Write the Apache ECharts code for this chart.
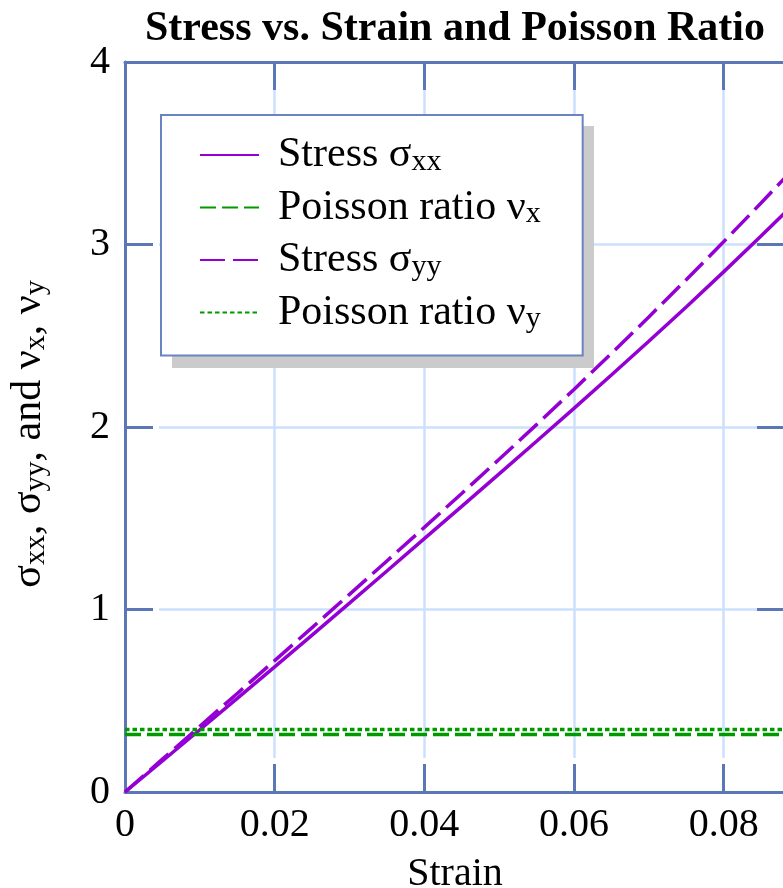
<!DOCTYPE html>
<html>
<head>
<meta charset="utf-8">
<script src="https://cdn.jsdelivr.net/npm/echarts@6/dist/echarts.min.js"></script>
<style>
  html, body { margin: 0; padding: 0; overflow: hidden; background: #ffffff; }
  #chart { width: 910px; height: 888px; }
</style>
</head>
<body>
<div id="chart"></div>
<script>
// Strain samples and the measured responses
const strain   = [0, 0.005, 0.010, 0.015, 0.020, 0.025, 0.030, 0.035, 0.040, 0.045,
                  0.050, 0.055, 0.060, 0.065, 0.070, 0.075, 0.080, 0.085, 0.090];
const stressXX = [0, 0.170, 0.341, 0.513, 0.686, 0.860, 1.035, 1.211, 1.388, 1.565,
                  1.743, 1.922, 2.102, 2.285, 2.470, 2.658, 2.850, 3.046, 3.247];
const stressYY = [0, 0.180, 0.360, 0.540, 0.720, 0.901, 1.083, 1.266, 1.450, 1.636,
                  1.823, 2.013, 2.206, 2.403, 2.603, 2.807, 3.015, 3.227, 3.444];
const poissonX = [0.315, 0.315, 0.315, 0.315, 0.315, 0.315, 0.315, 0.315, 0.315, 0.315,
                  0.315, 0.315, 0.315, 0.315, 0.315, 0.315, 0.315, 0.315, 0.315];
const poissonY = [0.343, 0.343, 0.343, 0.343, 0.343, 0.343, 0.343, 0.343, 0.343, 0.343,
                  0.343, 0.343, 0.343, 0.343, 0.343, 0.343, 0.343, 0.343, 0.343];

const seriesNames = ['Stress σxx', 'Poisson ratio νx', 'Stress σyy', 'Poisson ratio νy'];
const legendLabels = {
  'Stress σxx': '{m|Stress σ}{s|xx}',
  'Poisson ratio νx': '{m|Poisson ratio ν}{s|x}',
  'Stress σyy': '{m|Stress σ}{s|yy}',
  'Poisson ratio νy': '{m|Poisson ratio ν}{s|y}'
};
const yAxisTitle = '{m|σ}{s|xx}{m|, σ}{s|yy}{m|, and ν}{s|x}{m|, ν}{s|y}';

const xRange = [0, 0.0882];
const yRange = [0, 4];
const xStep = 0.02;
const yStep = 1;

const FONT = 'Liberation Serif';
const frameColor = '#5b77b6';
const gridColor = '#cde0fb';
const purple = '#9400d3';
const green = '#009a00';

const subRich = {
  m: { fontFamily: FONT, fontSize: 42, color: '#000', lineHeight: 44 },
  s: { fontFamily: FONT, fontSize: 30, color: '#000', lineHeight: 19, verticalAlign: 'bottom' }
};

function pairs(ys) { return strain.map((s, i) => [s, ys[i]]); }

// one axis that only carries the grid lines, one that blanks a small halo
// around each tick, and one that draws the frame, ticks and labels
function gridAxis(range, step, pos) {
  return {
    type: 'value', min: range[0], max: range[1], interval: step, position: pos, z: 0,
    axisLine: { show: false }, axisTick: { show: false }, axisLabel: { show: false },
    splitLine: { show: true, lineStyle: { color: gridColor, width: 2.5 } }
  };
}
function haloAxis(range, step, pos) {
  return {
    type: 'value', min: range[0], max: range[1], interval: step, position: pos, z: 1,
    axisLine: { show: false }, axisLabel: { show: false }, splitLine: { show: false },
    axisTick: { show: true, inside: true, length: 34, lineStyle: { color: '#ffffff', width: 7 } }
  };
}
function frameAxis(range, step, pos, extra) {
  return Object.assign({
    type: 'value', min: range[0], max: range[1], interval: step, position: pos, z: 1.5,
    axisLine: { show: true, onZero: false, lineStyle: { color: frameColor, width: 3 } },
    axisTick: { show: true, inside: true, length: 28, lineStyle: { color: frameColor, width: 3 } },
    axisLabel: { show: false },
    splitLine: { show: false }
  }, extra || {});
}

const option = {
  backgroundColor: '#ffffff',
  animation: false,
  title: {
    text: 'Stress vs. Strain and Poisson Ratio',
    left: 'center', top: 8, padding: 0,
    textStyle: { fontFamily: FONT, fontWeight: 'bold', fontSize: 42, color: '#000' }
  },
  grid: { left: 125, right: 125, top: 62, bottom: 96, containLabel: false, outerBoundsMode: 'none' },
  // flat drop shadow behind the legend box
  graphic: [{
    type: 'rect', left: 172, top: 126, z: 3,
    shape: { width: 422, height: 242 },
    style: { fill: '#cbcbcb' }
  }],
  legend: {
    data: seriesNames,
    orient: 'vertical',
    left: 161, top: 115,
    padding: [19, 42, 21, 38],
    itemGap: 9.5,
    itemWidth: 59, itemHeight: 14,
    backgroundColor: '#ffffff',
    borderColor: '#6a83c1', borderWidth: 2,
    itemStyle: { color: 'rgba(0,0,0,0)', borderWidth: 0, opacity: 0 },
    formatter: name => legendLabels[name],
    textStyle: {
      fontFamily: FONT, fontSize: 42, color: '#000',
      rich: {
        m: Object.assign({}, subRich.m, { padding: [0, 0, 0, 14] }),
        s: subRich.s
      }
    }
  },
  xAxis: [
    gridAxis(xRange, xStep, 'bottom'),
    haloAxis(xRange, xStep, 'bottom'),
    haloAxis(xRange, xStep, 'top'),
    frameAxis(xRange, xStep, 'bottom', {
      name: 'Strain', nameLocation: 'middle', nameGap: 62,
      nameTextStyle: { fontFamily: FONT, fontSize: 40, color: '#000' },
      axisLabel: {
        show: true, margin: 13, showMaxLabel: false,
        fontFamily: FONT, fontSize: 40, color: '#000',
        formatter: v => (v === 0 ? '0' : v.toFixed(2))
      }
    }),
    frameAxis(xRange, xStep, 'top')
  ],
  yAxis: [
    gridAxis(yRange, yStep, 'left'),
    haloAxis(yRange, yStep, 'left'),
    haloAxis(yRange, yStep, 'right'),
    frameAxis(yRange, yStep, 'left', {
      name: yAxisTitle, nameLocation: 'middle', nameGap: 74,
      nameTextStyle: { rich: subRich, padding: [0, 14, 0, 0] },
      axisLabel: {
        show: true, margin: 15,
        fontFamily: FONT, fontSize: 40, color: '#000'
      }
    }),
    frameAxis(yRange, yStep, 'right')
  ],
  series: [
    {
      name: seriesNames[0], type: 'line', data: pairs(stressXX),
      symbol: 'none', z: 2,
      itemStyle: { color: purple },
      lineStyle: { color: purple, width: 3.5 }
    },
    {
      name: seriesNames[1], type: 'line', data: pairs(poissonX),
      symbol: 'none', z: 2,
      itemStyle: { color: green },
      lineStyle: { color: green, width: 3.5, type: [16, 6], cap: 'butt' }
    },
    {
      name: seriesNames[2], type: 'line', data: pairs(stressYY),
      symbol: 'none', z: 2,
      itemStyle: { color: purple },
      lineStyle: { color: purple, width: 3.5, type: [25, 8], cap: 'butt' }
    },
    {
      name: seriesNames[3], type: 'line', data: pairs(poissonY),
      symbol: 'none', z: 2,
      itemStyle: { color: green },
      lineStyle: { color: green, width: 3.5, type: [4.5, 3], cap: 'butt' }
    }
  ]
};

const chart = echarts.init(document.getElementById('chart'), null, { renderer: 'canvas' });
chart.setOption(option);
</script>
</body>
</html>
